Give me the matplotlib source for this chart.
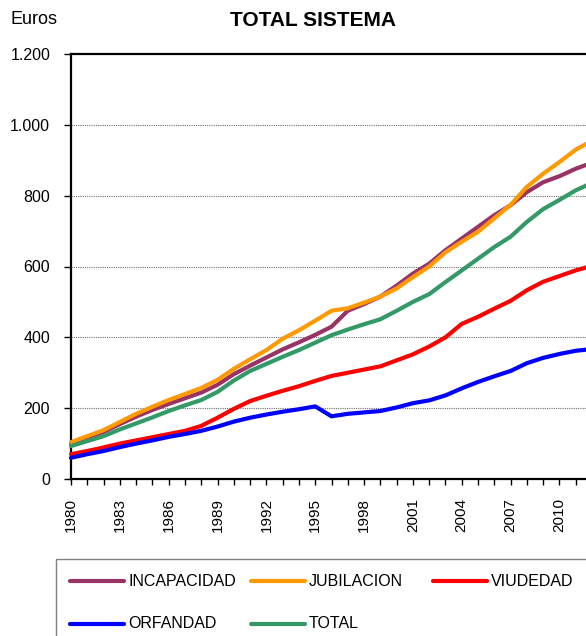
import matplotlib
matplotlib.use("Agg")
import matplotlib.pyplot as plt
from matplotlib.lines import Line2D
from matplotlib.patches import Rectangle
import matplotlib.ticker as mticker

plt.rcParams['font.family'] = ['Liberation Sans', 'DejaVu Sans']

years = list(range(1980, 2013))

incapacidad = [100, 117, 133, 155, 176, 195, 212, 228, 244, 266, 296, 320, 343, 366, 386, 407,
               430, 475, 494, 515, 546, 580, 608, 646, 679, 712, 745, 773, 810, 838, 855, 876, 893]
jubilacion = [104, 121, 138, 161, 184, 204, 223, 240, 257, 280, 311, 338, 364, 396, 420, 447,
              475, 482, 498, 515, 538, 570, 600, 640, 670, 698, 736, 774, 825, 862, 895, 930, 955]
viudedad = [70, 79, 89, 100, 109, 118, 127, 136, 150, 173, 198, 220, 235, 249, 262, 277,
            291, 300, 309, 318, 335, 352, 374, 400, 438, 458, 481, 503, 533, 557, 573, 589, 602]
orfandad = [60, 70, 79, 90, 100, 109, 119, 127, 136, 148, 162, 173, 182, 190, 197, 205,
            177, 184, 188, 192, 202, 214, 222, 236, 256, 274, 290, 305, 327, 342, 353, 362, 367]
total = [93, 107, 121, 140, 157, 174, 192, 208, 223, 246, 278, 305, 325, 345, 364, 385,
         406, 422, 437, 451, 475, 500, 522, 556, 589, 622, 655, 684, 726, 762, 788, 815, 836]

names = ["INCAPACIDAD", "JUBILACION", "VIUDEDAD", "ORFANDAD", "TOTAL"]
series = [incapacidad, jubilacion, viudedad, orfandad, total]
colors = ["#993366", "#FF9900", "#FF0000", "#0000FF", "#339966"]

W, H = 586, 636
fig = plt.figure(figsize=(W / 100, H / 100), dpi=100)

# plot area runs past the right edge, as in the source image
ax = fig.add_axes([71 / W, 1 - 479 / H, (592 - 71) / W, (479 - 54) / H])

for vals, col in zip(series, colors):
    ax.plot(years, vals, color=col, lw=3, solid_capstyle='round', clip_on=False, zorder=3)

ax.set_xlim(1980, 2012)
ax.set_ylim(0, 1200)
ax.set_yticks(range(0, 1201, 200))
ax.yaxis.set_major_formatter(mticker.FuncFormatter(lambda v, p: f"{int(v):,}".replace(",", ".")))
ax.set_xticks(years)
ax.set_xticklabels([str(y) if (y - 1980) % 3 == 0 else "" for y in years], rotation=90, fontsize=11)
ax.tick_params(axis='x', direction='out', length=4, width=1, pad=10)
ax.tick_params(axis='y', direction='out', length=5, width=1, pad=10, labelsize=11.5)

for v in range(200, 1001, 200):
    ax.axhline(v, color='#707070', lw=0.8, ls=(0, (1, 1)), zorder=1)

for s in ax.spines.values():
    s.set_linewidth(1.6)
    s.set_color('black')

fig.text(313 / W, 1 - 20 / H, "TOTAL SISTEMA", fontsize=15, fontweight='bold', ha='center', va='center')
fig.text(10 / W, 1 - 20 / H, "Euros", fontsize=13, ha='left', va='center')

# legend box (cut off at the bottom/right like the source)
fig.patches.append(Rectangle((56 / W, -0.1), 1.2, 0.1 + (1 - 559 / H), transform=fig.transFigure,
                             fill=False, edgecolor='#808080', lw=1.0, clip_on=False))
col_x = [70, 251, 433]
row_y = [581, 624]
for i, (name, col) in enumerate(zip(names, colors)):
    x0 = col_x[i % 3]
    y0 = 1 - row_y[i // 3] / H
    fig.lines.append(Line2D([x0 / W, (x0 + 54) / W], [y0, y0], transform=fig.transFigure,
                            color=col, lw=3, solid_capstyle='round'))
    fig.text((x0 + 58) / W, y0, name, fontsize=11.5, ha='left', va='center')

fig.savefig("out.png", dpi=100)
